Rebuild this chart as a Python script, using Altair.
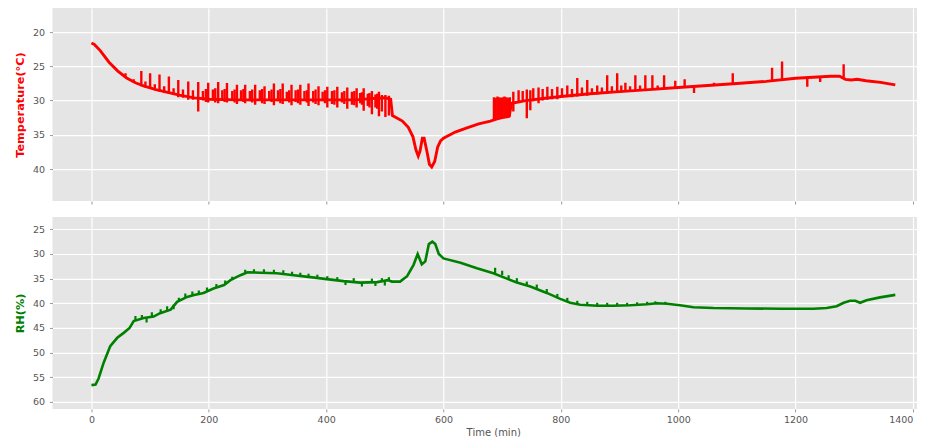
import altair as alt
import pandas as pd

# ---------------- data ----------------
temp_time = [0, 5, 15, 30, 45, 60, 75, 90, 110, 130, 150, 175, 200, 250, 300,
             350, 400, 450, 480, 500, 510, 513, 530, 540, 548, 553, 557, 560,
             564, 567, 572, 576, 580, 585, 590, 595, 600, 620, 640, 660, 680,
             690, 700, 712, 716, 740, 770, 800, 850, 900, 950, 1000, 1050,
             1100, 1150, 1200, 1230, 1260, 1275, 1285, 1295, 1305, 1320, 1345,
             1370]
temp_val = [21.6, 21.8, 22.7, 24.4, 25.7, 26.7, 27.4, 27.9, 28.4, 28.8, 29.2,
            29.6, 29.8, 29.9, 29.9, 29.9, 29.9, 29.9, 29.7, 29.6, 29.8, 32.2,
            33.0, 33.9, 35.3, 37.2, 38.1, 37.4, 35.5, 35.5, 37.5, 39.3, 39.7,
            38.9, 36.8, 35.9, 35.5, 34.6, 34.0, 33.4, 33.0, 32.7, 32.5, 32.3,
            30.4, 30.0, 29.7, 29.4, 29.0, 28.7, 28.4, 28.1, 27.8, 27.5, 27.2,
            26.75, 26.6, 26.45, 26.45, 26.9, 27.0, 26.9, 27.1, 27.35, 27.7]

# (time, one end, other end) of the short vertical excursions
temp_spikes = [
    (58, 26.0, 26.7), (72, 26.9, 27.4), (85, 25.7, 27.9), (100, 26.0, 28.3),
    (116, 26.2, 28.7), (132, 26.5, 29.0), (148, 27.0, 29.5), (165, 27.2, 29.9),
    (182, 27.3, 31.6), (199, 27.4, 30.3), (216, 27.3, 30.4), (231, 27.45, 30.3),
    (248, 27.7, 30.5), (262, 27.7, 30.4), (279, 27.7, 30.6), (295, 27.9, 30.5),
    (311, 27.5, 30.7), (326, 27.5, 30.5), (341, 27.7, 30.7), (356, 27.7, 30.6),
    (370, 27.5, 30.8), (387, 27.9, 30.7), (402, 28.0, 31.0), (419, 28.0, 31.0),
    (436, 28.1, 31.2), (452, 28.2, 31.0), (464, 28.2, 31.5), (478, 28.6, 32.0),
    (490, 28.7, 32.3), (501, 29.2, 32.4), (507, 29.3, 32.2),
    (92, 27.2, 28.1), (108, 27.6, 28.5), (124, 27.9, 28.9), (140, 28.2, 29.2),
    (156, 28.4, 29.6), (173, 28.5, 29.9), (190, 28.6, 30.0), (207, 28.4, 30.0),
    (223, 28.5, 30.0), (240, 28.6, 30.0), (255, 28.5, 30.0), (270, 28.6, 30.1),
    (287, 28.5, 30.0), (303, 28.6, 30.0), (318, 28.5, 30.1), (333, 28.7, 30.0),
    (348, 28.5, 30.2), (363, 28.6, 30.0), (378, 28.6, 30.3), (394, 28.7, 30.1),
    (410, 28.6, 30.5), (427, 28.8, 30.3), (444, 28.7, 30.6), (458, 28.9, 30.4),
    (471, 29.0, 30.8), (484, 29.1, 31.0), (495, 29.2, 31.6),
    (195, 28.3, 30.2), (211, 28.2, 30.3), (227, 28.3, 30.2), (244, 28.4, 30.3),
    (259, 28.3, 30.2), (274, 28.4, 30.3), (291, 28.3, 30.4), (307, 28.4, 30.2),
    (322, 28.3, 30.4), (337, 28.5, 30.3), (352, 28.4, 30.4), (367, 28.5, 30.3),
    (382, 28.4, 30.5), (398, 28.5, 30.4), (414, 28.5, 30.6), (431, 28.6, 30.5),
    (448, 28.6, 30.7), (461, 28.8, 30.6), (474, 28.9, 31.0), (487, 29.0, 31.2),
    (686, 29.5, 32.8), (689, 29.6, 32.7), (692, 29.4, 32.7), (695, 29.5, 32.6),
    (698, 29.6, 32.6), (701, 29.5, 32.5), (704, 29.4, 32.5), (707, 29.5, 32.4),
    (710, 29.6, 32.4), (713, 29.5, 32.3),
    (719, 28.7, 31.6), (728, 28.5, 30.3), (735, 28.6, 30.2), (742, 28.4, 32.6),
    (748, 28.5, 31.4), (753, 28.2, 30.1), (762, 28.1, 30.4), (769, 28.3, 30.0),
    (777, 28.0, 29.9), (785, 28.3, 29.8), (794, 28.0, 29.8), (802, 28.2, 29.6),
    (811, 27.8, 29.5), (819, 28.3, 29.5), (828, 26.7, 29.4), (836, 28.1, 29.3),
    (845, 27.0, 29.3), (853, 28.2, 29.2), (862, 27.8, 29.1), (870, 28.1, 29.0),
    (879, 26.3, 28.9), (887, 27.9, 28.9), (896, 26.0, 28.8), (903, 27.8, 28.8),
    (910, 27.4, 28.7), (918, 27.9, 28.7), (927, 26.3, 28.6), (935, 27.8, 28.6),
    (944, 26.3, 28.5), (956, 26.3, 28.4), (965, 27.8, 28.4), (976, 26.3, 28.3),
    (995, 27.1, 28.2), (1011, 26.9, 28.1), (1027, 28.0, 28.9), (1061, 27.4, 27.8),
    (1093, 26.0, 27.5), (1160, 25.2, 27.1), (1177, 24.3, 27.0), (1220, 26.6, 28.0),
    (1242, 26.6, 27.3), (1282, 24.7, 26.6),
]

rh_time = [0, 7, 12, 21, 32, 44, 55, 65, 72, 89, 106, 117, 135, 146, 163, 175,
           191, 208, 226, 237, 254, 266, 288, 316, 345, 373, 401, 430, 458, 487,
           505, 512, 526, 538, 549, 556, 563, 569, 575, 581, 586, 592, 600, 629,
           657, 685, 708, 725, 748, 776, 799, 816, 833, 862, 890, 918, 947, 964,
           981, 1003, 1026, 1060, 1117, 1174, 1231, 1253, 1270, 1282, 1293, 1302,
           1310, 1321, 1344, 1370]
rh_val = [56.6, 56.5, 55.3, 52.0, 48.7, 47.0, 46.0, 45.0, 43.6, 43.0, 42.7, 42.0,
          41.3, 39.7, 38.7, 38.3, 37.9, 37.0, 36.3, 35.3, 34.3, 33.7, 33.8, 33.9,
          34.3, 34.7, 35.1, 35.5, 35.8, 35.7, 35.3, 35.6, 35.6, 34.5, 32.2, 30.0,
          32.1, 31.5, 28.0, 27.5, 28.0, 30.0, 30.9, 31.8, 32.9, 33.9, 35.0, 35.8,
          36.6, 37.9, 39.1, 39.9, 40.3, 40.5, 40.5, 40.4, 40.2, 40.0, 40.1, 40.4,
          40.8, 40.95, 41.05, 41.1, 41.1, 40.95, 40.6, 39.9, 39.5, 39.5, 39.9,
          39.4, 38.8, 38.3]

rh_teeth = [
    (75, 43.4, 42.6), (86, 43.1, 42.4), (94, 42.9, 43.9), (103, 42.8, 41.8),
    (118, 42.0, 41.2), (129, 41.6, 40.6), (140, 41.2, 40.3), (149, 39.6, 38.9),
    (160, 38.9, 38.0), (172, 38.4, 37.6), (183, 38.1, 37.4), (197, 37.6, 36.8),
    (213, 36.8, 36.1), (228, 36.1, 35.4), (240, 35.2, 34.6), (262, 33.9, 33.2),
    (277, 33.8, 33.1), (294, 33.8, 33.1), (311, 33.9, 33.2), (327, 34.1, 33.3),
    (342, 34.3, 33.6), (356, 34.5, 33.8), (370, 34.7, 34.0), (385, 34.9, 34.2),
    (402, 35.1, 34.5), (419, 35.3, 34.7), (433, 35.5, 36.3), (447, 35.6, 34.9),
    (461, 35.8, 36.6), (478, 35.75, 35.0), (484, 35.7, 36.5), (495, 35.6, 34.9),
    (500, 35.5, 36.4), (507, 35.3, 34.7),
    (688, 34.0, 32.8), (700, 34.3, 33.4), (711, 35.1, 34.3), (725, 35.8, 34.9),
    (742, 36.4, 35.6), (759, 37.0, 36.2), (776, 37.9, 37.1), (794, 38.9, 38.1),
    (811, 39.7, 38.9), (828, 40.2, 39.5), (845, 40.4, 39.7), (862, 40.5, 39.9),
    (879, 40.5, 39.9), (896, 40.5, 39.9), (913, 40.4, 39.9), (930, 40.35, 39.8),
    (947, 40.2, 39.7), (961, 40.0, 39.6), (978, 40.1, 39.7),
]

x_ticks = [0, 200, 400, 600, 800, 1000, 1200, 1400]
temp_ticks = [20, 25, 30, 35, 40]
rh_ticks = [25, 30, 35, 40, 45, 50, 55, 60]

X_DOMAIN = [-66.4, 1407]
TEMP_DOMAIN = [16.5, 44.67]
RH_DOMAIN = [22.5, 61.42]
W = 865

# ---------------- tables ----------------
temp_df = pd.DataFrame({"t": temp_time, "v": temp_val})
temp_sp_df = pd.DataFrame(temp_spikes, columns=["t", "a", "b"])
rh_df = pd.DataFrame({"t": rh_time, "v": rh_val})
rh_sp_df = pd.DataFrame(rh_teeth, columns=["t", "a", "b"])

FONT = "DejaVu Sans"

x_scale = alt.Scale(domain=X_DOMAIN, nice=False, zero=False)

top_x_axis = alt.Axis(values=x_ticks, labels=False, title=None, tickSize=3)
bot_x_axis = alt.Axis(values=x_ticks, format="d", title="Time (min)",
                      titleFontSize=10, titleColor="#555555",
                      titleFontWeight="normal", titleX=441, titleAlign="center",
                      titlePadding=3, labelPadding=3, tickSize=3,
                      labelFlush=10, labelOverlap=False)


def y_axis(title, color, ticks):
    return alt.Axis(values=ticks, title=title, titleColor=color,
                    titleFontWeight="bold", titleFontSize=11.3,
                    titlePadding=7, labelPadding=5, tickSize=3,
                    labelOverlap=False, format="d")


t_scale = alt.Scale(domain=TEMP_DOMAIN, reverse=True, nice=False, zero=False)
r_scale = alt.Scale(domain=RH_DOMAIN, reverse=True, nice=False, zero=False)

RED = "#FF0000"
GREEN = "#008000"
t_axis = y_axis("Temperature(°C)", RED, temp_ticks)
r_axis = y_axis("RH(%)", GREEN, rh_ticks)

top_line = alt.Chart(temp_df).mark_line(color=RED, strokeWidth=2.9, clip=True).encode(
    x=alt.X("t:Q", scale=x_scale, axis=top_x_axis),
    y=alt.Y("v:Q", scale=t_scale, axis=t_axis),
)
top_sp = alt.Chart(temp_sp_df).mark_rule(color=RED, strokeWidth=2.4, clip=True).encode(
    x=alt.X("t:Q", scale=x_scale, axis=top_x_axis),
    y=alt.Y("a:Q", scale=t_scale, axis=t_axis),
    y2="b:Q",
)
top = alt.layer(top_line, top_sp).properties(width=W, height=193)

bot_line = alt.Chart(rh_df).mark_line(color=GREEN, strokeWidth=2.6, clip=True).encode(
    x=alt.X("t:Q", scale=x_scale, axis=bot_x_axis),
    y=alt.Y("v:Q", scale=r_scale, axis=r_axis),
)
bot_sp = alt.Chart(rh_sp_df).mark_rule(color=GREEN, strokeWidth=2.2, clip=True).encode(
    x=alt.X("t:Q", scale=x_scale, axis=bot_x_axis),
    y=alt.Y("a:Q", scale=r_scale, axis=r_axis),
    y2="b:Q",
)
bottom = alt.layer(bot_line, bot_sp).properties(width=W, height=192)

chart = alt.vconcat(top, bottom, spacing=12).properties(
    padding={"left": 5.5, "top": 0, "right": 0, "bottom": 0},
    background="white",
).configure_view(fill="#E5E5E5", stroke=None).configure_axis(
    grid=True, gridColor="white", gridWidth=1.2, domain=False,
    tickColor="#999999", labelColor="#555555", labelFont=FONT,
    labelFontSize=9.5, titleFont=FONT, labelOverlap=False,
)

chart.save("out.html", embed_options={"renderer": "svg", "actions": False})
